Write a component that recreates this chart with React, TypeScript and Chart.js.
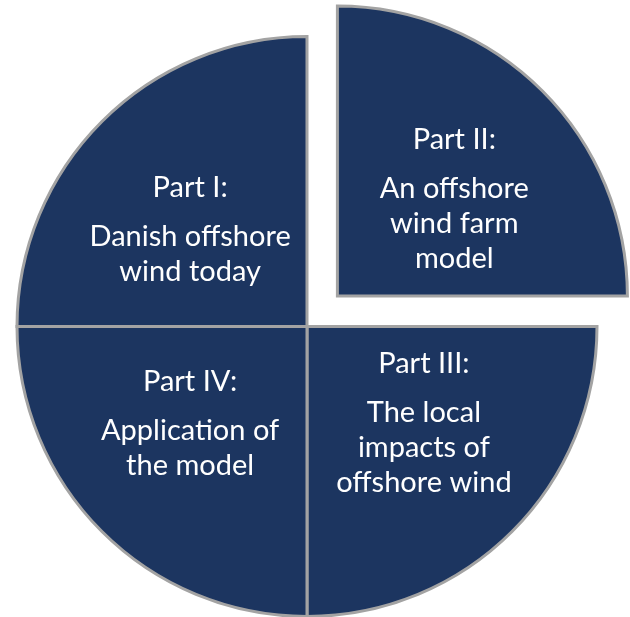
import React, { useEffect, useRef } from "react";
import { Chart, registerables } from "chart.js";

Chart.register(...registerables);

const categories = ["Part II", "Part III", "Part IV", "Part I"];
const values = [1, 1, 1, 1];
const explode = [172, 0, 0, 0];
const titles = ["Part II:", "Part III:", "Part IV:", "Part I:"];
const bodies = [
  ["An offshore", "wind farm", "model"],
  ["The local", "impacts of", "offshore wind"],
  ["Application of", "the model"],
  ["Danish offshore", "wind today"],
];

const labelPlugin = {
  id: "sliceLabels",
  afterDatasetsDraw(chart: any) {
    const ctx = chart.ctx;
    const meta = chart.getDatasetMeta(0);
    ctx.save();
    ctx.fillStyle = "#ffffff";
    ctx.textAlign = "center";
    ctx.textBaseline = "middle";
    ctx.font = "29px Lato, 'Open Sans', sans-serif";
    meta.data.forEach((arc: any, i: number) => {
      const p = arc.getProps(["x", "y", "startAngle", "endAngle", "outerRadius"], true);
      const mid = (p.startAngle + p.endAngle) / 2;
      const shift = (explode[i] || 0) / 4;
      const ox = p.x + Math.cos(mid) * shift;
      const oy = p.y + Math.sin(mid) * shift;
      const cx = ox + Math.cos(mid) * p.outerRadius * 0.57;
      const cy = oy + Math.sin(mid) * p.outerRadius * 0.472;
      const lines = [titles[i], ...bodies[i]];
      const gapTitle = 49;
      const gapLine = 35;
      const total = gapTitle + gapLine * (lines.length - 2);
      let y = cy - total / 2;
      lines.forEach((t, k) => {
        ctx.fillText(t, cx, y);
        y += k === 0 ? gapTitle : gapLine;
      });
    });
    ctx.restore();
  },
};

export default function App() {
  const ref = useRef<HTMLCanvasElement>(null);
  useEffect(() => {
    if (!ref.current) return;
    const chart = new Chart(ref.current, {
      type: "pie",
      data: {
        labels: categories,
        datasets: [
          {
            data: values,
            backgroundColor: "#1c3560",
            borderColor: "#a3a3a3",
            borderWidth: 3,
            borderJoinStyle: "miter",
            offset: explode,
            clip: false,
          } as any,
        ],
      },
      options: {
        responsive: false,
        animation: false,
        radius: 290,
        layout: { padding: { left: 0, right: 16, top: 36, bottom: 0 } },
        plugins: { legend: { display: false }, tooltip: { enabled: false } },
      } as any,
      plugins: [labelPlugin],
    });
    return () => chart.destroy();
  }, []);
  return (
    <div style={{ position: "absolute", left: 0, top: 0, width: 630, height: 617, background: "#fff" }}>
      <canvas ref={ref} width={630} height={617} />
    </div>
  );
}
